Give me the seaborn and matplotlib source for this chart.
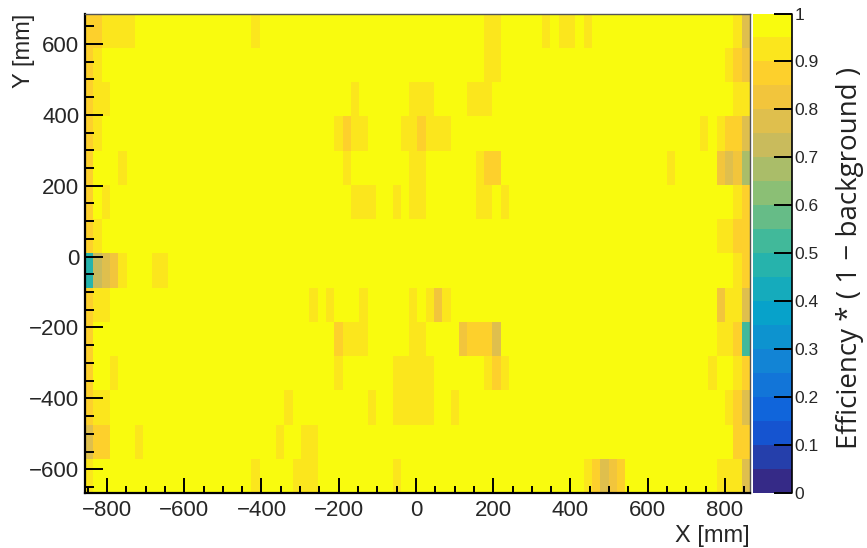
import numpy as np
import matplotlib
matplotlib.use("Agg")
import matplotlib.pyplot as plt
from matplotlib.colors import LinearSegmentedColormap
from matplotlib.ticker import FixedLocator
import seaborn as sns

# binning of the efficiency map, mm
X_MIN, X_MAX, N_X = -857.0, 865.0, 80
Y_MIN, Y_MAX, N_Y = -667.0, 686.0, 14

# almost every bin sits in the top (0.95-1) band
BASE_EFF = 0.98

# bins below the top band: (row from top, first x bin, last x bin, value)
LOW_BINS = [
    (0, 0, 1, 0.875), (0, 2, 5, 0.925), (0, 20, 20, 0.925), (0, 48, 49, 0.925),
    (0, 55, 55, 0.925), (0, 57, 58, 0.925), (0, 60, 60, 0.925), (0, 78, 78, 0.925),
    (0, 79, 79, 0.775),
    (1, 0, 0, 0.875), (1, 1, 1, 0.925), (1, 48, 49, 0.925), (1, 77, 77, 0.925),
    (1, 78, 78, 0.875), (1, 79, 79, 0.825),
    (2, 0, 0, 0.875), (2, 1, 2, 0.925), (2, 32, 32, 0.925), (2, 39, 41, 0.925),
    (2, 46, 48, 0.925), (2, 78, 79, 0.925),
    (3, 0, 0, 0.875), (3, 1, 1, 0.925), (3, 30, 30, 0.925), (3, 31, 31, 0.875),
    (3, 32, 33, 0.925), (3, 38, 39, 0.925), (3, 40, 40, 0.875), (3, 41, 43, 0.925),
    (3, 74, 74, 0.925), (3, 76, 76, 0.925), (3, 77, 78, 0.875), (3, 79, 79, 0.775),
    (4, 0, 0, 0.875), (4, 4, 4, 0.925), (4, 31, 31, 0.925), (4, 39, 40, 0.925),
    (4, 47, 47, 0.925), (4, 48, 49, 0.875), (4, 70, 70, 0.925), (4, 76, 76, 0.825),
    (4, 77, 77, 0.775), (4, 78, 78, 0.825), (4, 79, 79, 0.675),
    (5, 0, 0, 0.875), (5, 2, 2, 0.925), (5, 32, 34, 0.925), (5, 37, 37, 0.925),
    (5, 39, 40, 0.925), (5, 47, 48, 0.925), (5, 50, 50, 0.925), (5, 78, 78, 0.925),
    (5, 79, 79, 0.875),
    (6, 0, 0, 0.875), (6, 1, 1, 0.925), (6, 76, 77, 0.925), (6, 78, 79, 0.875),
    (7, 0, 0, 0.49), (7, 1, 1, 0.725), (7, 2, 2, 0.775), (7, 3, 3, 0.825),
    (7, 4, 4, 0.925), (7, 8, 9, 0.925), (7, 78, 78, 0.925), (7, 79, 79, 0.875),
    (8, 0, 0, 0.875), (8, 1, 2, 0.925), (8, 27, 27, 0.925), (8, 29, 29, 0.925),
    (8, 33, 33, 0.925), (8, 39, 39, 0.925), (8, 41, 41, 0.925), (8, 42, 42, 0.825),
    (8, 43, 43, 0.925), (8, 76, 76, 0.825), (8, 77, 78, 0.925), (8, 79, 79, 0.775),
    (9, 0, 0, 0.875), (9, 30, 30, 0.875), (9, 31, 33, 0.925), (9, 39, 40, 0.925),
    (9, 45, 45, 0.825), (9, 46, 48, 0.875), (9, 49, 49, 0.775), (9, 76, 77, 0.925),
    (9, 78, 78, 0.875), (9, 79, 79, 0.52),
    (10, 0, 0, 0.875), (10, 3, 3, 0.925), (10, 30, 30, 0.925), (10, 37, 41, 0.925),
    (10, 48, 48, 0.925), (10, 49, 49, 0.875), (10, 50, 50, 0.925), (10, 75, 75, 0.925),
    (10, 78, 78, 0.925), (10, 79, 79, 0.875),
    (11, 0, 0, 0.875), (11, 1, 2, 0.925), (11, 24, 24, 0.925), (11, 34, 34, 0.925),
    (11, 37, 41, 0.925), (11, 44, 44, 0.925), (11, 77, 77, 0.925), (11, 78, 78, 0.875),
    (11, 79, 79, 0.775),
    (12, 0, 0, 0.775), (12, 1, 2, 0.875), (12, 6, 6, 0.925), (12, 23, 23, 0.925),
    (12, 26, 27, 0.925), (12, 78, 79, 0.875),
    (13, 0, 0, 0.925), (13, 20, 20, 0.925), (13, 25, 27, 0.925), (13, 37, 37, 0.925),
    (13, 60, 60, 0.925), (13, 61, 61, 0.875), (13, 62, 62, 0.775), (13, 63, 63, 0.825),
    (13, 64, 64, 0.875), (13, 76, 78, 0.925), (13, 79, 79, 0.775),
]

X_TICKS = [-800, -600, -400, -200, 0, 200, 400, 600, 800]
Y_TICKS = [-600, -400, -200, 0, 200, 400, 600]
Z_TICKS = [0, 0.1, 0.2, 0.3, 0.4, 0.5, 0.6, 0.7, 0.8, 0.9, 1]
Z_LABELS = ["0", "0.1", "0.2", "0.3", "0.4", "0.5", "0.6", "0.7", "0.8", "0.9", "1"]

# ROOT kBird palette
BIRD_STOPS = [0.0, 0.125, 0.25, 0.375, 0.5, 0.625, 0.75, 0.875, 1.0]
BIRD_RED = [0.2082, 0.0592, 0.0780, 0.0232, 0.1802, 0.5301, 0.8186, 0.9956, 0.9764]
BIRD_GREEN = [0.1664, 0.3599, 0.5041, 0.6419, 0.7178, 0.7492, 0.7328, 0.7862, 0.9832]
BIRD_BLUE = [0.5293, 0.8684, 0.8385, 0.7914, 0.6425, 0.4662, 0.3499, 0.1968, 0.0539]


def x_pos(v):
    return (v - X_MIN) / (X_MAX - X_MIN) * N_X


def y_pos(v):
    return (Y_MAX - v) / (Y_MAX - Y_MIN) * N_Y


def minus(v):
    return str(v).replace("-", "\u2212")


grid = np.full((N_Y, N_X), BASE_EFF)
for row, c0, c1, val in LOW_BINS:
    grid[row, c0:c1 + 1] = val

bird = LinearSegmentedColormap.from_list(
    "bird", list(zip(BIRD_STOPS, zip(BIRD_RED, BIRD_GREEN, BIRD_BLUE)))
).resampled(20)

sns.set_style("white")
plt.rcParams["font.family"] = ["Liberation Sans", "DejaVu Sans"]
plt.rcParams["axes.axisbelow"] = False

W, H = 867, 548
fig = plt.figure(figsize=(W / 100, H / 100), dpi=100)
bottom = 1 - 493 / H
height = (493 - 13.5) / H
ax = fig.add_axes([85 / W, bottom, (750 - 85) / W, height])
cax = fig.add_axes([753 / W, bottom, 39 / W, height])

sns.heatmap(grid, ax=ax, cmap=bird, vmin=0, vmax=1, cbar_ax=cax,
            xticklabels=False, yticklabels=False)
ax.set_axisbelow(False)
cax.set_axisbelow(False)

# axes in mm
ax.set_xticks([x_pos(v) for v in X_TICKS])
ax.set_xticklabels([minus(v) for v in X_TICKS])
ax.xaxis.set_minor_locator(FixedLocator(
    [x_pos(v) for v in range(-850, 851, 50) if v % 200 != 0]))
ax.set_yticks([y_pos(v) for v in Y_TICKS])
ax.set_yticklabels([minus(v) for v in Y_TICKS])
ax.yaxis.set_minor_locator(FixedLocator(
    [y_pos(v) for v in range(-650, 651, 50) if v % 200 != 0]))

ax.tick_params(axis="x", which="major", direction="in", length=10.5, width=1.4,
               labelsize=16, pad=5, bottom=True, top=False, color="black")
ax.tick_params(axis="x", which="minor", direction="in", length=5, width=1.4,
               bottom=True, top=False, color="black")
ax.tick_params(axis="y", which="major", direction="in", length=13, width=1.4,
               labelsize=16, pad=4, left=True, right=False, color="black")
ax.tick_params(axis="y", which="minor", direction="in", length=6.5, width=1.4,
               left=True, right=False, color="black")
for side, sp in ax.spines.items():
    sp.set_visible(True)
    sp.set_zorder(5)
    sp.set_color("black" if side in ("left", "bottom") else "#555555")
    sp.set_linewidth(1.6 if side in ("left", "bottom") else 1.0)

# palette axis
cb = ax.collections[0].colorbar
cb.set_ticks(Z_TICKS)
cb.set_ticklabels(Z_LABELS)
cb.outline.set_visible(False)
cax.tick_params(axis="y", direction="in", length=13, width=1.4, labelsize=12.5,
                pad=2, right=True, color="black")
cax.plot([1, 1], [0, 1], transform=cax.transAxes, color="black", lw=1.2,
         clip_on=False)

fig.text(850 / W, 1 - 258 / H, "Efficiency * ( 1 \u2212 background )",
         rotation=90, ha="center", va="center", fontsize=20,
         family=["Open Sans", "DejaVu Sans"], color="#222222")
fig.text(24 / W, 1 - 14 / H, "Y [mm]", rotation=90, ha="center", va="top",
         fontsize=17)
fig.text(750 / W, 1 - 547 / H, "X [mm]", ha="right", va="bottom", fontsize=17)

fig.savefig("out.png", dpi=100)
